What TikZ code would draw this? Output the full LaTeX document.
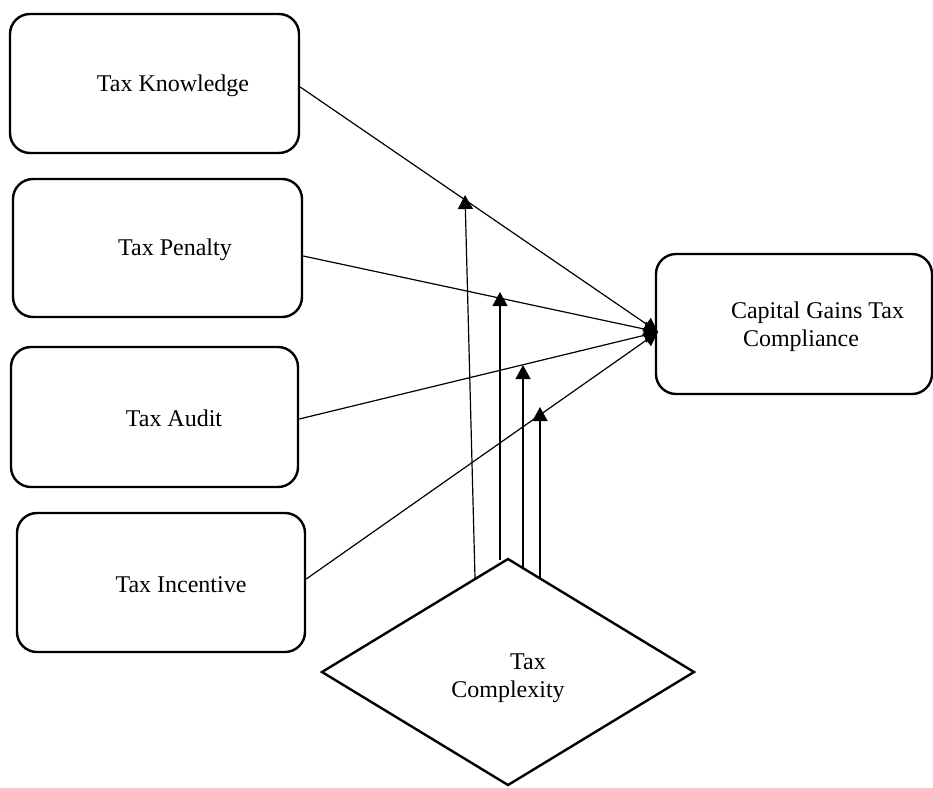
\documentclass[tikz,border=0pt]{standalone}
\usepackage{fontspec}
\setmainfont{Liberation Serif}
\usetikzlibrary{arrows.meta,shapes.geometric}
\begin{document}
\begin{tikzpicture}[x=1pt,y=-1pt,
  box/.style={draw, line width=2.4pt, rounded corners=20pt, inner sep=0pt},
  lbl/.style={font=\fontsize{24}{28}\selectfont, inner sep=0pt},
  conn/.style={line width=1.2pt, -{Triangle[length=14pt,width=15pt]}},
]
\useasboundingbox (0,0) rectangle (933,787);

% boxes
\node[box, minimum width=289pt, minimum height=139pt] (tk) at (154.5,83.5) {};
\node[box, minimum width=289pt, minimum height=138pt] (tp) at (157.5,248) {};
\node[box, minimum width=287pt, minimum height=140pt] (ta) at (154.5,417) {};
\node[box, minimum width=288pt, minimum height=139pt] (ti) at (161,582.5) {};
\node[box, minimum width=276pt, minimum height=140pt] (cg) at (794,324) {};

% labels
\node[lbl] (tkt) at (173,86) {Tax Knowledge};
\node[lbl] (tpt) at (175,250) {Tax Penalty};
\node[lbl] (tat) at (174,418) {Tax Audit};
\node[lbl] (tit) at (181,585) {Tax Incentive};
\node[lbl, align=left] (cgt) at (817.5,327) {Capital Gains Tax\\\hspace*{12pt}Compliance};

% moderator diamond
\node[draw, diamond, line width=2.4pt, minimum width=373pt, minimum height=227pt, inner sep=0pt] (tc) at (508,672) {};
\node[lbl, align=center] (tct) at (508,678) {\hspace*{40pt}Tax\\Complexity};

% main connectors
\coordinate (conv) at (658,332);
\draw[conn] ([yshift=-3.5pt]tk.east) -- (conv);
\draw[conn] ([yshift=-8pt]tp.east) -- (conv);
\draw[conn] ([yshift=-2pt]ta.east) -- (conv);
\draw[conn] ([yshift=3.5pt]ti.east) -- (conv);

% moderating arrows
\coordinate (s1) at (475,578); \coordinate (e1) at (465,195);
\coordinate (s2) at (500,560); \coordinate (e2) at (500,292);
\coordinate (s3) at (523,567); \coordinate (e3) at (523,365);
\coordinate (s4) at (540,578); \coordinate (e4) at (540,407);
\draw[conn] (s1) -- (e1);
\draw[conn] (s2) -- (e2);
\draw[conn] (s3) -- (e3);
\draw[conn] (s4) -- (e4);
\end{tikzpicture}
\end{document}
